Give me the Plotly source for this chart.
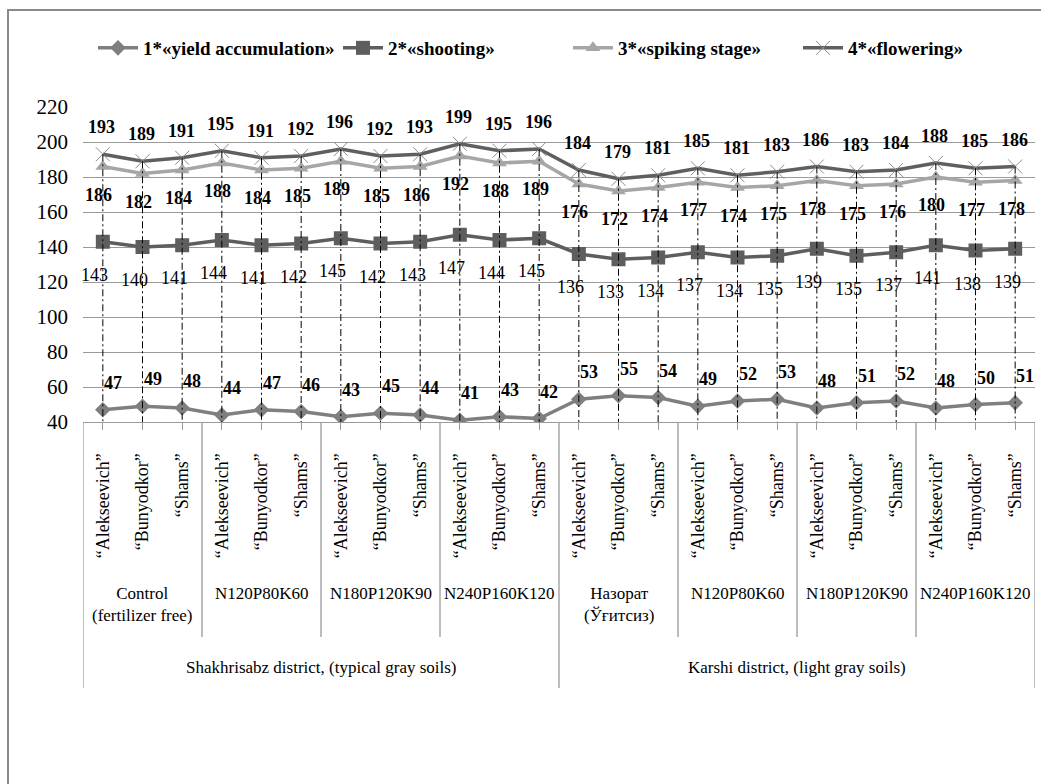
import plotly.graph_objects as go

# ---------------- data ----------------
varieties = ["“Alekseevich”", "“Bunyodkor”", "“Shams”"]
fertilizers = ["Control<br>(fertilizer free)", "N120P80K60", "N180P120K90", "N240P160K120",
               "Назорат<br>(Ўғитсиз)", "N120P80K60", "N180P120K90", "N240P160K120"]
districts = ["Shakhrisabz district, (typical gray soils)", "Karshi district, (light gray soils)"]

series_names = ["1*«yield accumulation»", "2*«shooting»", "3*«spiking stage»", "4*«flowering»"]
yield_accumulation = [47, 49, 48, 44, 47, 46, 43, 45, 44, 41, 43, 42,
                      53, 55, 54, 49, 52, 53, 48, 51, 52, 48, 50, 51]
shooting = [143, 140, 141, 144, 141, 142, 145, 142, 143, 147, 144, 145,
            136, 133, 134, 137, 134, 135, 139, 135, 137, 141, 138, 139]
spiking_stage = [186, 182, 184, 188, 184, 185, 189, 185, 186, 192, 188, 189,
                 176, 172, 174, 177, 174, 175, 178, 175, 176, 180, 177, 178]
flowering = [193, 189, 191, 195, 191, 192, 196, 192, 193, 199, 195, 196,
             184, 179, 181, 185, 181, 183, 186, 183, 184, 188, 185, 186]

y_ticks = [40, 60, 80, 100, 120, 140, 160, 180, 200, 220]

# ---------------- layout geometry ----------------
W, H = 1041, 784
PL, PR, PT, PB = 83, 1035, 107, 422   # plot area in pixels
FONT = "Liberation Serif, Times New Roman, serif"

n = len(flowering)
xs = list(range(n))
n_var = len(varieties)
n_grp_per_district = len(fertilizers) // len(districts)
category_text = [varieties[i % n_var] for i in xs]


def px_x(px):
    return (px - PL) / (PR - PL)


def px_y(py):
    return (PB - py) / (PB - PT)


fig = go.Figure()

styles = [
    dict(color="#7f7f7f", symbol="diamond", size=12, mline=dict(width=0)),
    dict(color="#5e5e5e", symbol="square", size=14, mline=dict(width=0)),
    dict(color="#a6a6a6", symbol="triangle-up", size=13, mline=dict(width=0)),
    dict(color="#5f5f5f", symbol="x-thin", size=14, mline=dict(width=1, color="#8c8c8c")),
]
all_series = [yield_accumulation, shooting, spiking_stage, flowering]
legend_ids = ["legend", "legend2", "legend3", "legend4"]
legend_left_px = [93, 338, 568, 798]

for name, vals, st, lid in zip(series_names, all_series, styles, legend_ids):
    fig.add_trace(go.Scatter(
        x=xs, y=vals, name=f"<b>{name}</b>", mode="lines+markers", legend=lid,
        line=dict(color=st["color"], width=3.5),
        marker=dict(symbol=st["symbol"], size=st["size"], color=st["color"],
                    line=st["mline"]),
    ))

# drop lines from the highest series to the axis
dx, dy = [], []
for i, v in enumerate(flowering):
    dx += [i, i, None]
    dy += [v, y_ticks[0], None]
fig.add_trace(go.Scatter(x=dx, y=dy, mode="lines", showlegend=False, hoverinfo="skip",
                         line=dict(color="black", width=1, dash="7px,3px,2px,3px")))

annotations = []
# data labels
label_cfg = [
    (yield_accumulation, 10, 27, "bold"),
    (shooting, -8, -33, "normal"),
    (spiking_stage, -4, -28, "bold"),
    (flowering, -1, 27, "bold"),
]
for vals, xsft, ysft, weight in label_cfg:
    for i, v in enumerate(vals):
        txt = f"<b>{v}</b>" if weight == "bold" else str(v)
        annotations.append(dict(x=i, y=v, xref="x", yref="y", text=txt, showarrow=False,
                                xshift=xsft, yshift=ysft,
                                font=dict(family=FONT, size=18, color="black")))

# fertilizer group labels
for g, lab in enumerate(fertilizers):
    annotations.append(dict(x=g * n_var + (n_var - 1) / 2, y=px_y(582), xref="x", yref="paper",
                            text=lab, showarrow=False, xanchor="center", yanchor="top",
                            font=dict(family=FONT, size=17, color="black")))
# district labels
per_d = n_var * n_grp_per_district
for d, lab in enumerate(districts):
    annotations.append(dict(x=d * per_d + (per_d - 1) / 2, y=px_y(667), xref="x", yref="paper",
                            text=lab, showarrow=False, xanchor="center", yanchor="middle",
                            font=dict(family=FONT, size=17, color="black")))

shapes = []
# group separators
for g in range(len(fertilizers) + 1):
    xb = g * n_var - 0.5
    is_district = (g % n_grp_per_district == 0)
    shapes.append(dict(type="line", xref="x", yref="paper", x0=xb, x1=xb,
                       y0=0, y1=px_y(688 if is_district else 637),
                       line=dict(color="#9a9a9a", width=1.3)))
# outer chart border
shapes.append(dict(type="rect", xref="paper", yref="paper",
                   x0=px_x(8), x1=px_x(1060), y0=px_y(10), y1=px_y(800),
                   line=dict(color="#8a8a8a", width=2), layer="below"))

legend_common = dict(orientation="h", xanchor="left", y=px_y(48), yanchor="middle",
                     font=dict(family=FONT, size=19, color="black"),
                     itemwidth=40, bgcolor="rgba(0,0,0,0)", borderwidth=0)
legends = {}
for lid, lx in zip(legend_ids, legend_left_px):
    legends[lid] = dict(legend_common, x=px_x(lx))

fig.update_layout(
    width=W, height=H,
    margin=dict(l=PL, r=W - PR, t=PT, b=H - PB, pad=0),
    paper_bgcolor="white", plot_bgcolor="white",
    font=dict(family=FONT, color="black"),
    showlegend=True,
    annotations=annotations,
    shapes=shapes,
    xaxis=dict(range=[-0.5, n - 0.5], tickvals=xs, ticktext=category_text,
               tickangle=-90, ticklabelstandoff=16,
               tickfont=dict(family=FONT, size=18, color="black"),
               ticks="outside", ticklen=7, tickcolor="#9a9a9a",
               showgrid=False, zeroline=False, showline=True, linecolor="#9a9a9a", linewidth=1.3),
    yaxis=dict(range=[y_ticks[0], y_ticks[-1]], tickvals=y_ticks, showgrid=True,
               gridcolor="#9a9a9a", gridwidth=1.2, zeroline=False, showline=False,
               ticklabelstandoff=14,
               tickfont=dict(family=FONT, size=21, color="black")),
    **legends,
)

fig.write_html("out.html", config={"displayModeBar": False},
               post_script="document.body.style.margin='0px';document.body.style.overflow='hidden';")
